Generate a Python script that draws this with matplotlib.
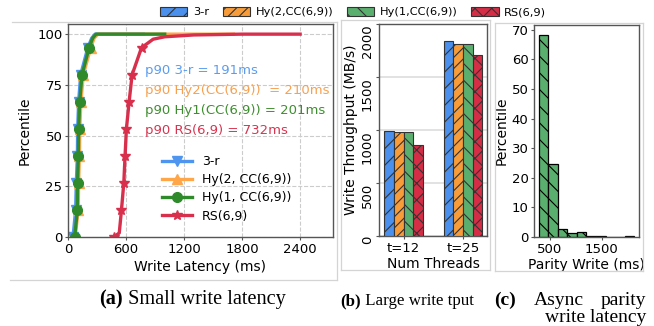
import matplotlib
matplotlib.use('Agg')
import matplotlib.pyplot as plt
import numpy as np
from matplotlib.lines import Line2D

plt.rcParams['font.family'] = 'DejaVu Sans'
plt.rcParams['hatch.linewidth'] = 0.8

W, H = 654, 326

# ---------------- data ----------------
# (a) CDF of small write latency (ms) vs percentile
lat_3r = [52, 79, 86, 97, 100, 110, 131, 205, 245, 280, 780]
pct_3r = [0, 13.3, 26.7, 40, 53.3, 66.7, 80, 93.3, 98, 100, 100]
lat_hy2 = [75, 105, 110, 118, 122, 133, 158, 235, 270, 310, 1710]
pct_hy2 = [0, 13.3, 26.7, 40, 53.3, 66.7, 80, 93.3, 98, 100, 100]
lat_hy1 = [69, 97, 99, 107, 110, 121, 145, 218, 255, 290, 1000]
pct_hy1 = [0, 13.3, 26.7, 40, 53.3, 66.7, 80, 93.3, 98, 100, 100]
lat_rs = [473, 530, 553, 577, 590, 604, 632, 663, 760, 880, 1000, 1300, 1800, 2400]
pct_rs = [0, 2, 13.3, 26.7, 40, 53.3, 66.7, 80, 93.3, 97.5, 98.7, 99.6, 100, 100]
marks_cc = [0, 1, 2, 3, 4, 5, 6, 7]
marks_rs = [0, 2, 3, 4, 5, 6, 7, 8]
p90_labels = ['p90 3-r = 191ms', 'p90 Hy2(CC(6,9))  = 210ms',
              'p90 Hy1(CC(6,9)) = 201ms', 'p90 RS(6,9) = 732ms']

# (b) large write throughput (MB/s)
threads = ['t=12', 't=25']
tput_3r = [993, 1842]
tput_hy2 = [978, 1811]
tput_hy1 = [981, 1811]
tput_rs = [855, 1707]

# (c) async parity write latency histogram
bin_edges = [283, 467, 651, 835, 1019, 1203, 1387, 1571, 1755, 1939, 2124]
bin_pct = [68.2, 24.5, 2.8, 1.5, 1.8, 0.35, 0.3, 0.1, 0.1, 0.2]

# ---------------- styles ----------------
c_blue, c_orange, c_green, c_red = '#4a90ec', '#f89c3a', '#5aaf6e', '#d62d46'
l_blue, l_orange, l_green, l_red = '#4e95f0', '#ffa649', '#2f8a2c', '#d8304c'
t_colors = ['#5b9cf0', '#f7a050', '#3e8e2f', '#d8344f']
spine_c = '#555555'


def frac(x0, y0, x1, y1):
    return [x0 / W, 1 - y1 / H, (x1 - x0) / W, (y1 - y0) / H]


def style(ax):
    for s in ax.spines.values():
        s.set_color(spine_c)
        s.set_linewidth(1.0)
    ax.tick_params(length=2.5, pad=1.5, labelsize=9.5, color=spine_c)


fig = plt.figure(figsize=(W / 100, H / 100), dpi=100)

# light grey panel outlines
for (x0, y0, x1, y1) in [(12, 22, 337, 22), (337, 22, 337, 280), (10, 280, 337, 280),
                         (341, 20, 490, 20), (341, 20, 341, 270), (490, 20, 490, 270),
                         (341, 270, 490, 270),
                         (495, 23, 643, 23), (495, 23, 495, 271), (643, 23, 643, 271),
                         (495, 271, 643, 271)]:
    fig.add_artist(Line2D([x0 / W, x1 / W], [1 - y0 / H, 1 - y1 / H],
                          color='#d4d4d4', lw=0.9))

# ---------------- (a) ----------------
ax1 = fig.add_axes(frac(68, 24, 333, 237))
style(ax1)
ax1.plot(lat_3r, pct_3r, color=l_blue, lw=2.4, marker='v', ms=7, markevery=marks_cc, label='3-r')
ax1.plot(lat_hy2, pct_hy2, color=l_orange, lw=2.4, marker='^', ms=7, markevery=marks_cc,
         label='Hy(2, CC(6,9))')
ax1.plot(lat_hy1, pct_hy1, color=l_green, lw=2.4, marker='o', ms=7, markevery=marks_cc,
         label='Hy(1, CC(6,9))')
ax1.plot(lat_rs, pct_rs, color=l_red, lw=2.4, marker='*', ms=7, markevery=marks_rs, label='RS(6,9)')
ax1.set_xlim(0, 2740)
ax1.set_ylim(0, 105)
ax1.set_xticks([0, 600, 1200, 1800, 2400])
ax1.set_yticks([0, 25, 50, 75, 100])
ax1.grid(True, linestyle='--', color='#cccccc', lw=0.8)
ax1.set_axisbelow(True)
ax1.set_xlabel('Write Latency (ms)', fontsize=10, labelpad=3)
ax1.set_ylabel('Percentile', fontsize=10, labelpad=4)
for i, (txt, col) in enumerate(zip(p90_labels, t_colors)):
    ax1.text(800, 82.3 - 9.9 * i, txt, color=col, fontsize=9.5, va='center', ha='left')
ax1.legend(loc='upper left', bbox_to_anchor=(0.355, 0.385), frameon=False, fontsize=9,
           handlelength=2.4, handletextpad=0.8, labelspacing=0.42, borderpad=0, borderaxespad=0)

# ---------------- (b) ----------------
ax2 = fig.add_axes(frac(379.3, 24, 487.3, 236))
style(ax2)
x = np.arange(len(threads))
w = 0.1625
bar_specs = [(tput_3r, c_blue, '//', '3-r'), (tput_hy2, c_orange, '///', 'Hy(2,CC(6,9))'),
             (tput_hy1, c_green, '\\\\', 'Hy(1,CC(6,9))'), (tput_rs, c_red, 'xx', 'RS(6,9)')]
handles = []
for k, (vals, col, hat, lab) in enumerate(bar_specs):
    b = ax2.bar(x + (k - 1.5) * w, vals, w, color=col, hatch=hat, edgecolor='#333333',
                lw=0.8, label=lab, zorder=3)
    handles.append(b)
ax2.set_ylim(0, 2000)
ax2.set_yticks([0, 500, 1000, 1500, 2000])
ax2.set_xticks(x)
ax2.set_xticklabels(threads)
for t in ax2.get_yticklabels():
    t.set_rotation(90)
    t.set_va('top')
ax2.grid(axis='y', color='#dddddd', lw=1.2, zorder=0)
ax2.set_axisbelow(True)
ax2.set_xlabel('Num Threads', fontsize=10, labelpad=2)
ax2.set_ylabel('Write Throughput (MB/s)', fontsize=10, labelpad=2)

# ---------------- (c) ----------------
ax3 = fig.add_axes(frac(534, 25, 639, 237))
style(ax3)
ax3.bar(bin_edges[:-1], bin_pct, width=np.diff(bin_edges), align='edge', color=c_green,
        hatch='\\\\', edgecolor='black', lw=0.9)
ax3.set_xticks([500, 1500])
ax3.set_yticks([0, 10, 20, 30, 40, 50, 60, 70])
ax3.set_xlabel('Parity Write (ms)', fontsize=10, labelpad=2)
ax3.set_ylabel('Percentile', fontsize=10, labelpad=2)

# ---------------- shared legend ----------------
fig.legend(handles, [h.get_label() for h in handles], loc='center',
           bbox_to_anchor=(353 / W, 1 - 12 / H), ncol=4, frameon=False, fontsize=8.2,
           handlelength=2.4, handleheight=0.9, columnspacing=1.2, handletextpad=0.5)

# ---------------- captions ----------------
serif = 'Liberation Serif'


def caption(x_px, y_px, tag, rest, size=14):
    tb = fig.text(x_px / W, 1 - y_px / H, tag, family=serif, fontweight='bold', fontsize=size,
                  ha='left', va='bottom')
    ax1.annotate(rest, xy=(1, 0), xycoords=tb, family=serif, fontsize=size,
                 ha='left', va='bottom', annotation_clip=False)


caption(99, 309, '(a)', ' Small write latency', size=14.6)
caption(340, 309, '(b)', ' Large write tput', size=12.2)
fig.text(494 / W, 1 - 309 / H, '(c)', family=serif, fontweight='bold', fontsize=14,
         ha='left', va='bottom')
fig.text(559 / W, 1 - 309 / H, 'Async', family=serif, fontsize=14, ha='center', va='bottom')
fig.text(646 / W, 1 - 309 / H, 'parity', family=serif, fontsize=14, ha='right', va='bottom')
fig.text(646 / W, 1 - 326 / H, 'write latency', family=serif, fontsize=14, ha='right', va='bottom')

fig.savefig('out.png', dpi=100)
